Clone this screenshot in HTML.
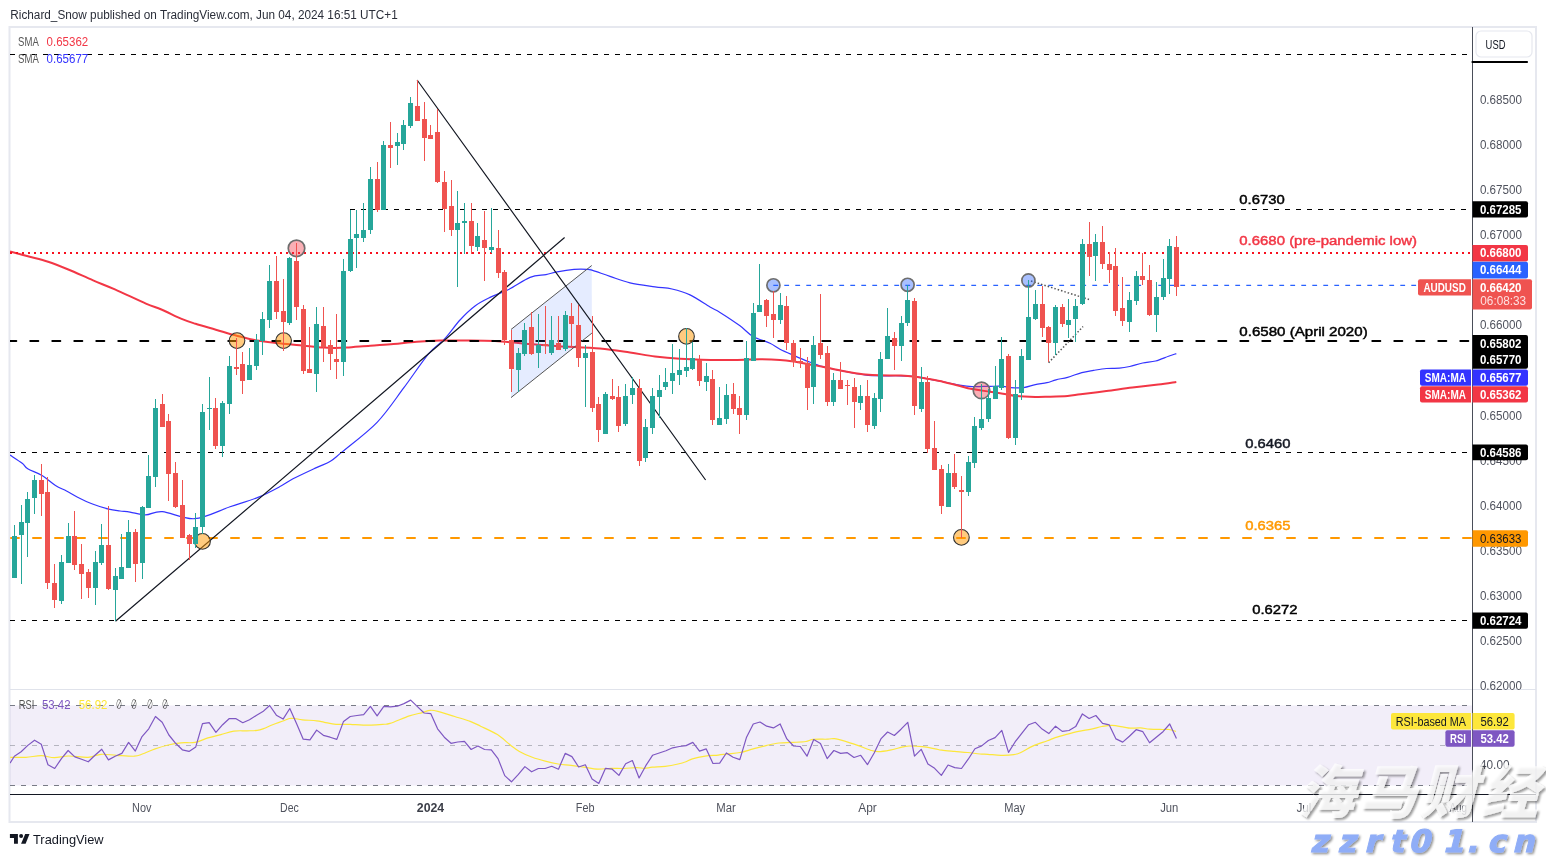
<!DOCTYPE html>
<html><head><meta charset="utf-8"><title>AUDUSD chart</title>
<style>
html,body{margin:0;padding:0;background:#fff;}
body{width:1546px;height:857px;overflow:hidden;position:relative;font-family:"Liberation Sans","Noto Sans CJK SC",sans-serif;}
svg{position:absolute;left:0;top:0;will-change:transform;}
svg{font-family:"Liberation Sans","Noto Sans CJK SC",sans-serif;}
</style></head><body>
<svg width="1546" height="857" viewBox="0 0 1546 857">
<rect width="1546" height="857" fill="#fff"/>
<text x="10.3" y="19.1" font-size="12" fill="#2a2e39" textLength="387.4" lengthAdjust="spacingAndGlyphs">Richard_Snow published on TradingView.com, Jun 04, 2024 16:51 UTC+1</text>
<rect x="9.5" y="27" width="1526.5" height="795" fill="none" stroke="#e6e8ef" stroke-width="2"/>
<defs><clipPath id="mp"><rect x="10" y="28" width="1462" height="661"/></clipPath><clipPath id="rp"><rect x="10" y="690" width="1462" height="104"/></clipPath></defs>
<g clip-path="url(#mp)">
<path d="M10 455C12.03 456.38 19.25 461 22.2 463.3C25.15 465.6 24.38 466.77 27.7 468.8C31.02 470.83 37.47 472.72 42.1 475.5C46.73 478.28 51.43 482.92 55.5 485.5C59.57 488.08 62.82 489.05 66.5 491C70.18 492.95 73.15 494.98 77.6 497.2C82.05 499.42 88.02 502.3 93.2 504.3C98.38 506.3 104.23 508.08 108.7 509.2C113.17 510.32 116.45 510.52 120 511C123.55 511.48 125.72 511.45 130 512.1C134.28 512.75 140.3 514.98 145.7 514.9C151.1 514.82 154.27 510.97 162.4 511.6C170.53 512.23 183.23 519.5 194.5 518.7C205.77 517.9 219.42 510.35 230 506.8C240.58 503.25 249.43 500.9 258 497.4C266.57 493.9 275.57 488.9 281.4 485.8C287.23 482.7 287.17 481.83 293 478.8C298.83 475.77 310.17 470.52 316.4 467.6C322.63 464.68 326.12 463.92 330.4 461.3C334.68 458.68 334.32 458.4 342.1 451.9C349.88 445.4 366.8 433 377.1 422.3C387.4 411.6 395.33 399.1 403.9 387.7C412.47 376.3 421.68 362.07 428.5 353.9C435.32 345.73 439.55 344.35 444.8 338.7C450.05 333.05 454.97 325.45 460 320C465.03 314.55 470 309.77 475 306C480 302.23 484.38 300.15 490 297.4C495.62 294.65 502.02 292.83 508.7 289.5C515.38 286.17 523.88 279.88 530.1 277.4C536.32 274.92 541.48 275.53 546 274.6C550.52 273.67 552.53 272.67 557.2 271.8C561.87 270.93 569.03 269.82 574 269.4C578.97 268.98 583.9 269.13 587 269.3C590.1 269.47 588.77 269.22 592.6 270.4C596.43 271.58 603.77 274.33 610 276.4C616.23 278.47 622.5 281.07 630 282.8C637.5 284.53 648 285.77 655 286.8C662 287.83 666.17 287.65 672 289C677.83 290.35 683.67 291.9 690 294.9C696.33 297.9 705 304.08 710 307C715 309.92 715 309.27 720 312.4C725 315.53 734.5 321.78 740 325.8C745.5 329.82 748 333.6 753 336.5C758 339.4 765.5 341.08 770 343.2C774.5 345.32 775.97 347.13 780 349.2C784.03 351.27 789.45 353.53 794.2 355.6C798.95 357.67 803.75 359.75 808.5 361.6C813.25 363.45 817.97 365.33 822.7 366.7C827.43 368.07 832.15 368.8 836.9 369.8C841.65 370.8 845.98 371.78 851.2 372.7C856.42 373.62 863.47 374.78 868.2 375.3C872.93 375.82 874.13 375.72 879.6 375.8C885.07 375.88 895.07 375.65 901 375.8C906.93 375.95 910.47 376.15 915.2 376.7C919.93 377.25 924.65 378.23 929.4 379.1C934.15 379.97 938.95 380.95 943.7 381.9C948.45 382.85 953.17 384.02 957.9 384.8C962.63 385.58 966.75 386.35 972.1 386.6C977.45 386.85 984.87 386.35 990 386.3C995.13 386.25 999.45 386.08 1002.9 386.3C1006.35 386.52 1007.25 387.38 1010.7 387.6C1014.15 387.82 1019.5 388.1 1023.6 387.6C1027.7 387.1 1031.42 385.42 1035.3 384.6C1039.18 383.78 1043.45 383.5 1046.9 382.7C1050.35 381.9 1052.55 380.7 1056 379.8C1059.45 378.9 1063.3 378.5 1067.6 377.3C1071.9 376.1 1077.48 373.75 1081.8 372.6C1086.12 371.45 1089.4 371.08 1093.5 370.4C1097.6 369.72 1102.08 368.87 1106.4 368.5C1110.72 368.13 1115.52 368.53 1119.4 368.2C1123.28 367.87 1125.82 367.37 1129.7 366.5C1133.58 365.63 1138.38 363.92 1142.7 363C1147.02 362.08 1151.3 362.13 1155.6 361C1159.9 359.87 1165.05 357.43 1168.5 356.2C1171.95 354.97 1175 354.03 1176.3 353.6" fill="none" stroke="#3434ff" stroke-width="1.2"/>
<path d="M10 251.4C12.98 252.22 21.55 254.58 27.9 256.3C34.25 258.02 41.37 259.5 48.1 261.7C54.83 263.9 60.8 266.38 68.3 269.5C75.8 272.62 85.33 277.08 93.1 280.4C100.87 283.72 106.1 285.53 114.9 289.4C123.7 293.27 138.15 300.25 145.9 303.6C153.65 306.95 155.45 306.95 161.4 309.5C167.35 312.05 175.9 316.52 181.6 318.9C187.3 321.28 189.9 322 195.6 323.8C201.3 325.6 210.07 328 215.8 329.7C221.53 331.4 226.63 333.03 230 334C233.37 334.97 232.12 334.53 236 335.5C239.88 336.47 246.52 338.57 253.3 339.8C260.08 341.03 268.92 342 276.7 342.9C284.48 343.8 292.22 344.42 300 345.2C307.78 345.98 317.57 347.13 323.4 347.6C329.23 348.07 331.12 348 335 348C338.88 348 340.85 347.98 346.7 347.6C352.55 347.22 362.32 346.3 370.1 345.7C377.88 345.1 385.62 344.67 393.4 344C401.18 343.33 409.02 342.28 416.8 341.7C424.58 341.12 432.32 340.7 440.1 340.5C447.88 340.3 454.35 340.4 463.5 340.5C472.65 340.6 483.33 340.47 495 341.1C506.67 341.73 522.8 343.45 533.5 344.3C544.2 345.15 548.12 345.5 559.2 346.2C570.28 346.9 588.2 347.45 600 348.5C611.8 349.55 620.83 351.17 630 352.5C639.17 353.83 646.67 355.47 655 356.5C663.33 357.53 669.17 358.1 680 358.7C690.83 359.3 706.67 360 720 360.1C733.33 360.2 750 359.33 760 359.3C770 359.27 774.3 359.52 780 359.9C785.7 360.28 789.45 360.88 794.2 361.6C798.95 362.32 803.75 363.35 808.5 364.2C813.25 365.05 817.97 365.77 822.7 366.7C827.43 367.63 832.15 368.85 836.9 369.8C841.65 370.75 846.45 371.63 851.2 372.4C855.95 373.17 860.67 373.92 865.4 374.4C870.13 374.88 873.67 375.12 879.6 375.3C885.53 375.48 895.07 375.27 901 375.5C906.93 375.73 910.47 376.1 915.2 376.7C919.93 377.3 924.65 378.23 929.4 379.1C934.15 379.97 938.95 380.83 943.7 381.9C948.45 382.97 953.17 384.3 957.9 385.5C962.63 386.7 966.75 388.07 972.1 389.1C977.45 390.13 984.87 390.93 990 391.7C995.13 392.47 998.58 393 1002.9 393.7C1007.22 394.4 1010.5 395.37 1015.9 395.9C1021.3 396.43 1029.92 396.77 1035.3 396.9C1040.68 397.03 1042.82 396.87 1048.2 396.7C1053.58 396.53 1062.2 396.3 1067.6 395.9C1073 395.5 1074.13 395.1 1080.6 394.3C1087.07 393.5 1097.78 392.22 1106.4 391.1C1115.02 389.98 1123.67 388.68 1132.3 387.6C1140.93 386.52 1150.87 385.53 1158.2 384.6C1165.53 383.67 1173.28 382.43 1176.3 382" fill="none" stroke="#f23645" stroke-width="2"/>
<path d="M10 54.5H1472" stroke="#000" stroke-width="1" stroke-dasharray="5 6"/>
<path d="M350 209.5H1467" stroke="#000" stroke-width="1" stroke-dasharray="5 6"/>
<path d="M10 253H1472" stroke="#f7101e" stroke-width="2" stroke-dasharray="2 4"/>
<path d="M8.3 341H1472" stroke="#000" stroke-width="2" stroke-dasharray="8 14" stroke-linecap="round"/>
<path d="M10 452.5H1467" stroke="#000" stroke-width="1" stroke-dasharray="5 6"/>
<path d="M11 538H1472" stroke="#ff9800" stroke-width="2" stroke-dasharray="8 14" stroke-linecap="round"/>
<path d="M10 620.5H1467" stroke="#000" stroke-width="1" stroke-dasharray="5 6"/>
<path d="M773.3 285.4H1418" stroke="#2962ff" stroke-width="1.2" stroke-dasharray="4.8 6.2"/>
<polygon points="511,329.5 591.7,265.5 591.9,333.1 511,397.6" fill="rgba(41,98,255,0.12)"/>
<path d="M511 329.5L591.7 265.5M511 397.6L591.9 333.1" stroke="#555" stroke-width="1"/>
<path d="M115.5 621.3L564.6 237.5M417.1 80L705.6 480" stroke="#131722" stroke-width="1.2"/>
<path d="M1031 281L1089 299.5M1048.6 362.7L1083 326.6" stroke="#555" stroke-width="1.5" stroke-dasharray="1.5 2"/>
<circle cx="202.5" cy="541.4" r="7.85" fill="rgba(255,152,0,0.5)" stroke="#333" stroke-width="1.1"/>
<circle cx="237" cy="340.6" r="7.85" fill="rgba(255,152,0,0.5)" stroke="#333" stroke-width="1.1"/>
<circle cx="283.6" cy="340.6" r="7.85" fill="rgba(255,152,0,0.5)" stroke="#333" stroke-width="1.1"/>
<circle cx="296.5" cy="248.3" r="8.25" fill="rgba(242,54,69,0.4)" stroke="#6e6e6e" stroke-width="1.7"/>
<circle cx="686.5" cy="336.4" r="7.85" fill="rgba(255,152,0,0.5)" stroke="#333" stroke-width="1.1"/>
<circle cx="773.4" cy="285.3" r="6.55" fill="rgba(41,98,255,0.4)" stroke="#6e6e6e" stroke-width="1.7"/>
<circle cx="907.6" cy="284.8" r="6.55" fill="rgba(41,98,255,0.4)" stroke="#6e6e6e" stroke-width="1.7"/>
<circle cx="961.4" cy="537.4" r="7.85" fill="rgba(255,152,0,0.5)" stroke="#333" stroke-width="1.1"/>
<circle cx="981.5" cy="390.4" r="8.25" fill="rgba(242,54,69,0.4)" stroke="#6e6e6e" stroke-width="1.7"/>
<circle cx="1028.4" cy="280.4" r="6.55" fill="rgba(41,98,255,0.4)" stroke="#6e6e6e" stroke-width="1.7"/>
<g stroke-width="1" shape-rendering="crispEdges">
<path d="M14.5 525V578" stroke="#26a69a"/>
<rect x="12" y="536" width="5" height="42" fill="#26a69a"/>
<path d="M21.5 505V584" stroke="#26a69a"/>
<rect x="19" y="522" width="5" height="13" fill="#26a69a"/>
<path d="M27.5 492V557" stroke="#26a69a"/>
<rect x="25" y="499" width="5" height="24" fill="#26a69a"/>
<path d="M34.5 475V514" stroke="#26a69a"/>
<rect x="32" y="480" width="5" height="18" fill="#26a69a"/>
<path d="M41.5 464V516" stroke="#ef5350"/>
<rect x="39" y="480" width="5" height="14" fill="#ef5350"/>
<path d="M47.5 477V589" stroke="#ef5350"/>
<rect x="45" y="492" width="5" height="91" fill="#ef5350"/>
<path d="M54.5 564V608" stroke="#ef5350"/>
<rect x="52" y="583" width="5" height="17" fill="#ef5350"/>
<path d="M61.5 555V604" stroke="#26a69a"/>
<rect x="59" y="562" width="5" height="39" fill="#26a69a"/>
<path d="M68.5 523V563" stroke="#26a69a"/>
<rect x="66" y="536" width="5" height="27" fill="#26a69a"/>
<path d="M74.5 511V570" stroke="#ef5350"/>
<rect x="72" y="536" width="5" height="29" fill="#ef5350"/>
<path d="M81.5 544V599" stroke="#ef5350"/>
<rect x="79" y="564" width="5" height="10" fill="#ef5350"/>
<path d="M88.5 569V598" stroke="#ef5350"/>
<rect x="86" y="572" width="5" height="16" fill="#ef5350"/>
<path d="M95.5 551V605" stroke="#26a69a"/>
<rect x="93" y="562" width="5" height="26" fill="#26a69a"/>
<path d="M101.5 524V565" stroke="#26a69a"/>
<rect x="99" y="545" width="5" height="18" fill="#26a69a"/>
<path d="M108.5 506V590" stroke="#ef5350"/>
<rect x="106" y="545" width="5" height="44" fill="#ef5350"/>
<path d="M115.5 568V621" stroke="#26a69a"/>
<rect x="113" y="576" width="5" height="14" fill="#26a69a"/>
<path d="M121.5 534V579" stroke="#26a69a"/>
<rect x="119" y="567" width="5" height="12" fill="#26a69a"/>
<path d="M128.5 520V568" stroke="#26a69a"/>
<rect x="126" y="532" width="5" height="36" fill="#26a69a"/>
<path d="M135.5 529V582" stroke="#ef5350"/>
<rect x="133" y="532" width="5" height="32" fill="#ef5350"/>
<path d="M142.5 506V579" stroke="#26a69a"/>
<rect x="140" y="507" width="5" height="56" fill="#26a69a"/>
<path d="M148.5 455V508" stroke="#26a69a"/>
<rect x="146" y="476" width="5" height="32" fill="#26a69a"/>
<path d="M155.5 399V487" stroke="#26a69a"/>
<rect x="153" y="408" width="5" height="69" fill="#26a69a"/>
<path d="M162.5 394V427" stroke="#ef5350"/>
<rect x="160" y="404" width="5" height="23" fill="#ef5350"/>
<path d="M168.5 414V501" stroke="#ef5350"/>
<rect x="166" y="421" width="5" height="53" fill="#ef5350"/>
<path d="M175.5 462V508" stroke="#ef5350"/>
<rect x="173" y="473" width="5" height="34" fill="#ef5350"/>
<path d="M182.5 480V538" stroke="#ef5350"/>
<rect x="180" y="505" width="5" height="33" fill="#ef5350"/>
<path d="M189.5 534V560" stroke="#ef5350"/>
<rect x="187" y="535" width="5" height="9" fill="#ef5350"/>
<path d="M195.5 513V548" stroke="#26a69a"/>
<rect x="193" y="527" width="5" height="17" fill="#26a69a"/>
<path d="M202.5 404V534" stroke="#26a69a"/>
<rect x="200" y="412" width="5" height="115" fill="#26a69a"/>
<path d="M209.5 377V430" stroke="#26a69a"/>
<rect x="207" y="408" width="5" height="1" fill="#26a69a"/>
<path d="M215.5 398V449" stroke="#ef5350"/>
<rect x="213" y="408" width="5" height="38" fill="#ef5350"/>
<path d="M222.5 401V457" stroke="#26a69a"/>
<rect x="220" y="403" width="5" height="43" fill="#26a69a"/>
<path d="M229.5 356V414" stroke="#26a69a"/>
<rect x="227" y="366" width="5" height="38" fill="#26a69a"/>
<path d="M236.5 338V375" stroke="#ef5350"/>
<rect x="234" y="367" width="5" height="2" fill="#ef5350"/>
<path d="M242.5 352V394" stroke="#ef5350"/>
<rect x="240" y="364" width="5" height="17" fill="#ef5350"/>
<path d="M249.5 348V380" stroke="#26a69a"/>
<rect x="247" y="365" width="5" height="15" fill="#26a69a"/>
<path d="M256.5 334V370" stroke="#26a69a"/>
<rect x="254" y="340" width="5" height="26" fill="#26a69a"/>
<path d="M262.5 312V355" stroke="#26a69a"/>
<rect x="260" y="319" width="5" height="22" fill="#26a69a"/>
<path d="M269.5 265V328" stroke="#26a69a"/>
<rect x="267" y="281" width="5" height="39" fill="#26a69a"/>
<path d="M276.5 256V319" stroke="#ef5350"/>
<rect x="274" y="281" width="5" height="31" fill="#ef5350"/>
<path d="M283.5 279V351" stroke="#ef5350"/>
<rect x="281" y="311" width="5" height="11" fill="#ef5350"/>
<path d="M289.5 257V325" stroke="#26a69a"/>
<rect x="287" y="258" width="5" height="65" fill="#26a69a"/>
<path d="M296.5 243V320" stroke="#ef5350"/>
<rect x="294" y="261" width="5" height="46" fill="#ef5350"/>
<path d="M303.5 305V374" stroke="#ef5350"/>
<rect x="301" y="309" width="5" height="62" fill="#ef5350"/>
<path d="M309.5 327V373" stroke="#ef5350"/>
<rect x="307" y="369" width="5" height="4" fill="#ef5350"/>
<path d="M316.5 307V392" stroke="#26a69a"/>
<rect x="314" y="324" width="5" height="50" fill="#26a69a"/>
<path d="M323.5 307V362" stroke="#ef5350"/>
<rect x="321" y="326" width="5" height="21" fill="#ef5350"/>
<path d="M330.5 340V370" stroke="#ef5350"/>
<rect x="328" y="345" width="5" height="9" fill="#ef5350"/>
<path d="M336.5 314V379" stroke="#ef5350"/>
<rect x="334" y="359" width="5" height="3" fill="#ef5350"/>
<path d="M343.5 259V376" stroke="#26a69a"/>
<rect x="341" y="271" width="5" height="91" fill="#26a69a"/>
<path d="M350.5 210V272" stroke="#26a69a"/>
<rect x="348" y="239" width="5" height="32" fill="#26a69a"/>
<path d="M356.5 210V268" stroke="#26a69a"/>
<rect x="354" y="234" width="5" height="4" fill="#26a69a"/>
<path d="M363.5 203V242" stroke="#26a69a"/>
<rect x="361" y="230" width="5" height="8" fill="#26a69a"/>
<path d="M370.5 167V234" stroke="#26a69a"/>
<rect x="368" y="179" width="5" height="51" fill="#26a69a"/>
<path d="M377.5 162V212" stroke="#ef5350"/>
<rect x="375" y="179" width="5" height="31" fill="#ef5350"/>
<path d="M383.5 141V210" stroke="#26a69a"/>
<rect x="381" y="145" width="5" height="65" fill="#26a69a"/>
<path d="M390.5 122V168" stroke="#ef5350"/>
<rect x="388" y="145" width="5" height="3" fill="#ef5350"/>
<path d="M397.5 133V165" stroke="#26a69a"/>
<rect x="395" y="142" width="5" height="4" fill="#26a69a"/>
<path d="M403.5 120V150" stroke="#26a69a"/>
<rect x="401" y="125" width="5" height="19" fill="#26a69a"/>
<path d="M410.5 97V128" stroke="#26a69a"/>
<rect x="408" y="103" width="5" height="23" fill="#26a69a"/>
<path d="M417.5 80V121" stroke="#ef5350"/>
<rect x="415" y="106" width="5" height="15" fill="#ef5350"/>
<path d="M424.5 102V161" stroke="#ef5350"/>
<rect x="422" y="119" width="5" height="19" fill="#ef5350"/>
<path d="M430.5 125V139" stroke="#ef5350"/>
<rect x="428" y="135" width="5" height="4" fill="#ef5350"/>
<path d="M437.5 109V183" stroke="#ef5350"/>
<rect x="435" y="132" width="5" height="50" fill="#ef5350"/>
<path d="M444.5 171V232" stroke="#ef5350"/>
<rect x="442" y="182" width="5" height="27" fill="#ef5350"/>
<path d="M451.5 180V236" stroke="#ef5350"/>
<rect x="449" y="206" width="5" height="24" fill="#ef5350"/>
<path d="M457.5 191V287" stroke="#26a69a"/>
<rect x="455" y="223" width="5" height="7" fill="#26a69a"/>
<path d="M464.5 203V254" stroke="#26a69a"/>
<rect x="462" y="221" width="5" height="2" fill="#26a69a"/>
<path d="M471.5 203V254" stroke="#ef5350"/>
<rect x="469" y="221" width="5" height="25" fill="#ef5350"/>
<path d="M477.5 223V251" stroke="#26a69a"/>
<rect x="475" y="236" width="5" height="11" fill="#26a69a"/>
<path d="M484.5 211V281" stroke="#ef5350"/>
<rect x="482" y="240" width="5" height="8" fill="#ef5350"/>
<path d="M491.5 208V253" stroke="#26a69a"/>
<rect x="489" y="247" width="5" height="3" fill="#26a69a"/>
<path d="M498.5 230V278" stroke="#ef5350"/>
<rect x="496" y="248" width="5" height="25" fill="#ef5350"/>
<path d="M504.5 270V345" stroke="#ef5350"/>
<rect x="502" y="272" width="5" height="68" fill="#ef5350"/>
<path d="M511.5 330V392" stroke="#ef5350"/>
<rect x="509" y="340" width="5" height="29" fill="#ef5350"/>
<path d="M518.5 348V392" stroke="#26a69a"/>
<rect x="516" y="353" width="5" height="17" fill="#26a69a"/>
<path d="M524.5 323V356" stroke="#26a69a"/>
<rect x="522" y="330" width="5" height="24" fill="#26a69a"/>
<path d="M531.5 312V355" stroke="#ef5350"/>
<rect x="529" y="327" width="5" height="27" fill="#ef5350"/>
<path d="M538.5 314V368" stroke="#26a69a"/>
<rect x="536" y="345" width="5" height="8" fill="#26a69a"/>
<path d="M545.5 306V354" stroke="#ef5350"/>
<rect x="543" y="344" width="5" height="2" fill="#ef5350"/>
<path d="M551.5 316V355" stroke="#26a69a"/>
<rect x="549" y="340" width="5" height="13" fill="#26a69a"/>
<path d="M558.5 316V350" stroke="#ef5350"/>
<rect x="556" y="343" width="5" height="7" fill="#ef5350"/>
<path d="M565.5 311V351" stroke="#26a69a"/>
<rect x="563" y="315" width="5" height="34" fill="#26a69a"/>
<path d="M571.5 303V348" stroke="#ef5350"/>
<rect x="569" y="316" width="5" height="8" fill="#ef5350"/>
<path d="M578.5 305V367" stroke="#ef5350"/>
<rect x="576" y="325" width="5" height="33" fill="#ef5350"/>
<path d="M585.5 345V407" stroke="#26a69a"/>
<rect x="583" y="353" width="5" height="5" fill="#26a69a"/>
<path d="M592.5 316V412" stroke="#ef5350"/>
<rect x="590" y="352" width="5" height="56" fill="#ef5350"/>
<path d="M598.5 397V442" stroke="#ef5350"/>
<rect x="596" y="404" width="5" height="26" fill="#ef5350"/>
<path d="M605.5 392V434" stroke="#26a69a"/>
<rect x="603" y="394" width="5" height="40" fill="#26a69a"/>
<path d="M612.5 379V400" stroke="#ef5350"/>
<rect x="610" y="396" width="5" height="3" fill="#ef5350"/>
<path d="M618.5 386V432" stroke="#ef5350"/>
<rect x="616" y="397" width="5" height="29" fill="#ef5350"/>
<path d="M625.5 384V426" stroke="#26a69a"/>
<rect x="623" y="396" width="5" height="28" fill="#26a69a"/>
<path d="M632.5 377V404" stroke="#26a69a"/>
<rect x="630" y="388" width="5" height="7" fill="#26a69a"/>
<path d="M639.5 379V466" stroke="#ef5350"/>
<rect x="637" y="388" width="5" height="73" fill="#ef5350"/>
<path d="M645.5 419V462" stroke="#26a69a"/>
<rect x="643" y="427" width="5" height="31" fill="#26a69a"/>
<path d="M652.5 388V434" stroke="#26a69a"/>
<rect x="650" y="396" width="5" height="32" fill="#26a69a"/>
<path d="M659.5 375V418" stroke="#26a69a"/>
<rect x="657" y="390" width="5" height="7" fill="#26a69a"/>
<path d="M665.5 368V390" stroke="#26a69a"/>
<rect x="663" y="382" width="5" height="5" fill="#26a69a"/>
<path d="M672.5 344V394" stroke="#26a69a"/>
<rect x="670" y="373" width="5" height="8" fill="#26a69a"/>
<path d="M679.5 349V385" stroke="#26a69a"/>
<rect x="677" y="370" width="5" height="5" fill="#26a69a"/>
<path d="M686.5 328V377" stroke="#26a69a"/>
<rect x="684" y="367" width="5" height="4" fill="#26a69a"/>
<path d="M692.5 342V370" stroke="#26a69a"/>
<rect x="690" y="358" width="5" height="11" fill="#26a69a"/>
<path d="M699.5 355V386" stroke="#ef5350"/>
<rect x="697" y="360" width="5" height="21" fill="#ef5350"/>
<path d="M706.5 363V391" stroke="#26a69a"/>
<rect x="704" y="376" width="5" height="6" fill="#26a69a"/>
<path d="M712.5 370V425" stroke="#ef5350"/>
<rect x="710" y="379" width="5" height="41" fill="#ef5350"/>
<path d="M719.5 387V425" stroke="#26a69a"/>
<rect x="717" y="418" width="5" height="7" fill="#26a69a"/>
<path d="M726.5 384V424" stroke="#26a69a"/>
<rect x="724" y="395" width="5" height="24" fill="#26a69a"/>
<path d="M733.5 383V414" stroke="#ef5350"/>
<rect x="731" y="394" width="5" height="15" fill="#ef5350"/>
<path d="M739.5 396V434" stroke="#ef5350"/>
<rect x="737" y="408" width="5" height="7" fill="#ef5350"/>
<path d="M746.5 341V420" stroke="#26a69a"/>
<rect x="744" y="358" width="5" height="57" fill="#26a69a"/>
<path d="M753.5 303V361" stroke="#26a69a"/>
<rect x="751" y="313" width="5" height="48" fill="#26a69a"/>
<path d="M759.5 264V312" stroke="#26a69a"/>
<rect x="757" y="305" width="5" height="7" fill="#26a69a"/>
<path d="M766.5 299V327" stroke="#ef5350"/>
<rect x="764" y="300" width="5" height="16" fill="#ef5350"/>
<path d="M773.5 291V338" stroke="#ef5350"/>
<rect x="771" y="314" width="5" height="6" fill="#ef5350"/>
<path d="M780.5 293V324" stroke="#26a69a"/>
<rect x="778" y="305" width="5" height="15" fill="#26a69a"/>
<path d="M786.5 296V350" stroke="#ef5350"/>
<rect x="784" y="306" width="5" height="37" fill="#ef5350"/>
<path d="M793.5 340V367" stroke="#ef5350"/>
<rect x="791" y="343" width="5" height="19" fill="#ef5350"/>
<path d="M800.5 348V368" stroke="#ef5350"/>
<rect x="798" y="361" width="5" height="2" fill="#ef5350"/>
<path d="M807.5 357V410" stroke="#ef5350"/>
<rect x="805" y="363" width="5" height="25" fill="#ef5350"/>
<path d="M813.5 336V404" stroke="#26a69a"/>
<rect x="811" y="345" width="5" height="42" fill="#26a69a"/>
<path d="M820.5 294V359" stroke="#ef5350"/>
<rect x="818" y="343" width="5" height="12" fill="#ef5350"/>
<path d="M827.5 346V406" stroke="#ef5350"/>
<rect x="825" y="353" width="5" height="49" fill="#ef5350"/>
<path d="M833.5 373V406" stroke="#26a69a"/>
<rect x="831" y="380" width="5" height="22" fill="#26a69a"/>
<path d="M840.5 362V389" stroke="#ef5350"/>
<rect x="838" y="380" width="5" height="9" fill="#ef5350"/>
<path d="M847.5 380V405" stroke="#ef5350"/>
<rect x="845" y="385" width="5" height="1" fill="#ef5350"/>
<path d="M854.5 378V428" stroke="#ef5350"/>
<rect x="852" y="387" width="5" height="15" fill="#ef5350"/>
<path d="M860.5 385V410" stroke="#26a69a"/>
<rect x="858" y="396" width="5" height="7" fill="#26a69a"/>
<path d="M867.5 380V432" stroke="#ef5350"/>
<rect x="865" y="396" width="5" height="29" fill="#ef5350"/>
<path d="M874.5 393V429" stroke="#26a69a"/>
<rect x="872" y="398" width="5" height="28" fill="#26a69a"/>
<path d="M880.5 352V412" stroke="#26a69a"/>
<rect x="878" y="359" width="5" height="40" fill="#26a69a"/>
<path d="M887.5 308V359" stroke="#26a69a"/>
<rect x="885" y="336" width="5" height="23" fill="#26a69a"/>
<path d="M894.5 332V370" stroke="#ef5350"/>
<rect x="892" y="338" width="5" height="8" fill="#ef5350"/>
<path d="M901.5 316V361" stroke="#26a69a"/>
<rect x="899" y="323" width="5" height="23" fill="#26a69a"/>
<path d="M907.5 285V326" stroke="#26a69a"/>
<rect x="905" y="300" width="5" height="23" fill="#26a69a"/>
<path d="M914.5 298V415" stroke="#ef5350"/>
<rect x="912" y="301" width="5" height="105" fill="#ef5350"/>
<path d="M921.5 367V412" stroke="#26a69a"/>
<rect x="919" y="382" width="5" height="27" fill="#26a69a"/>
<path d="M927.5 376V453" stroke="#ef5350"/>
<rect x="925" y="382" width="5" height="67" fill="#ef5350"/>
<path d="M934.5 421V470" stroke="#ef5350"/>
<rect x="932" y="448" width="5" height="22" fill="#ef5350"/>
<path d="M941.5 465V514" stroke="#ef5350"/>
<rect x="939" y="469" width="5" height="37" fill="#ef5350"/>
<path d="M948.5 464V507" stroke="#26a69a"/>
<rect x="946" y="473" width="5" height="34" fill="#26a69a"/>
<path d="M954.5 454V489" stroke="#ef5350"/>
<rect x="952" y="473" width="5" height="14" fill="#ef5350"/>
<path d="M961.5 476V538" stroke="#ef5350"/>
<rect x="959" y="490" width="5" height="2" fill="#ef5350"/>
<path d="M968.5 456V496" stroke="#26a69a"/>
<rect x="966" y="462" width="5" height="30" fill="#26a69a"/>
<path d="M974.5 417V468" stroke="#26a69a"/>
<rect x="972" y="426" width="5" height="37" fill="#26a69a"/>
<path d="M981.5 384V430" stroke="#26a69a"/>
<rect x="979" y="419" width="5" height="9" fill="#26a69a"/>
<path d="M988.5 389V422" stroke="#26a69a"/>
<rect x="986" y="398" width="5" height="21" fill="#26a69a"/>
<path d="M995.5 366V399" stroke="#26a69a"/>
<rect x="993" y="386" width="5" height="13" fill="#26a69a"/>
<path d="M1001.5 337V390" stroke="#26a69a"/>
<rect x="999" y="359" width="5" height="29" fill="#26a69a"/>
<path d="M1008.5 354V439" stroke="#ef5350"/>
<rect x="1006" y="356" width="5" height="82" fill="#ef5350"/>
<path d="M1015.5 380V445" stroke="#26a69a"/>
<rect x="1013" y="394" width="5" height="44" fill="#26a69a"/>
<path d="M1021.5 349V400" stroke="#26a69a"/>
<rect x="1019" y="356" width="5" height="37" fill="#26a69a"/>
<path d="M1028.5 280V360" stroke="#26a69a"/>
<rect x="1026" y="317" width="5" height="43" fill="#26a69a"/>
<path d="M1035.5 290V320" stroke="#26a69a"/>
<rect x="1033" y="304" width="5" height="15" fill="#26a69a"/>
<path d="M1042.5 286V337" stroke="#ef5350"/>
<rect x="1040" y="304" width="5" height="24" fill="#ef5350"/>
<path d="M1048.5 326V362" stroke="#ef5350"/>
<rect x="1046" y="327" width="5" height="16" fill="#ef5350"/>
<path d="M1055.5 305V355" stroke="#26a69a"/>
<rect x="1053" y="307" width="5" height="36" fill="#26a69a"/>
<path d="M1062.5 304V327" stroke="#ef5350"/>
<rect x="1060" y="307" width="5" height="17" fill="#ef5350"/>
<path d="M1068.5 299V338" stroke="#26a69a"/>
<rect x="1066" y="320" width="5" height="5" fill="#26a69a"/>
<path d="M1075.5 299V342" stroke="#26a69a"/>
<rect x="1073" y="306" width="5" height="13" fill="#26a69a"/>
<path d="M1082.5 239V305" stroke="#26a69a"/>
<rect x="1080" y="244" width="5" height="60" fill="#26a69a"/>
<path d="M1089.5 222V276" stroke="#ef5350"/>
<rect x="1087" y="244" width="5" height="13" fill="#ef5350"/>
<path d="M1095.5 234V281" stroke="#26a69a"/>
<rect x="1093" y="242" width="5" height="14" fill="#26a69a"/>
<path d="M1102.5 226V269" stroke="#ef5350"/>
<rect x="1100" y="242" width="5" height="22" fill="#ef5350"/>
<path d="M1109.5 252V283" stroke="#ef5350"/>
<rect x="1107" y="264" width="5" height="6" fill="#ef5350"/>
<path d="M1115.5 248V316" stroke="#ef5350"/>
<rect x="1113" y="266" width="5" height="45" fill="#ef5350"/>
<path d="M1122.5 277V326" stroke="#ef5350"/>
<rect x="1120" y="308" width="5" height="13" fill="#ef5350"/>
<path d="M1129.5 292V332" stroke="#26a69a"/>
<rect x="1127" y="300" width="5" height="22" fill="#26a69a"/>
<path d="M1136.5 271V305" stroke="#26a69a"/>
<rect x="1134" y="276" width="5" height="25" fill="#26a69a"/>
<path d="M1142.5 253V285" stroke="#ef5350"/>
<rect x="1140" y="276" width="5" height="4" fill="#ef5350"/>
<path d="M1149.5 265V316" stroke="#ef5350"/>
<rect x="1147" y="280" width="5" height="35" fill="#ef5350"/>
<path d="M1156.5 282V332" stroke="#26a69a"/>
<rect x="1154" y="297" width="5" height="18" fill="#26a69a"/>
<path d="M1163.5 259V300" stroke="#26a69a"/>
<rect x="1161" y="278" width="5" height="19" fill="#26a69a"/>
<path d="M1169.5 239V294" stroke="#26a69a"/>
<rect x="1167" y="246" width="5" height="33" fill="#26a69a"/>
<path d="M1176.5 236V296" stroke="#ef5350"/>
<rect x="1174" y="247" width="5" height="40" fill="#ef5350"/>
</g>
<text x="1239.3" y="203.5" font-size="13" fill="#000" textLength="45.4" lengthAdjust="spacingAndGlyphs" stroke-width="0.45" paint-order="stroke" stroke="#000">0.6730</text>
<text x="1239.3" y="244.7" font-size="13" fill="#f23645" textLength="177.7" lengthAdjust="spacingAndGlyphs" stroke-width="0.45" paint-order="stroke" stroke="#f23645">0.6680 (pre-pandemic low)</text>
<text x="1239.3" y="335.5" font-size="13" fill="#000" textLength="128.4" lengthAdjust="spacingAndGlyphs" stroke-width="0.45" paint-order="stroke" stroke="#000">0.6580 (April 2020)</text>
<text x="1245.2" y="447.5" font-size="13" fill="#131722" textLength="45.3" lengthAdjust="spacingAndGlyphs" stroke-width="0.45" paint-order="stroke" stroke="#131722">0.6460</text>
<text x="1245.2" y="529.9" font-size="13" fill="#ff9800" textLength="45.3" lengthAdjust="spacingAndGlyphs" stroke-width="0.45" paint-order="stroke" stroke="#ff9800">0.6365</text>
<text x="1252.2" y="613.7" font-size="13" fill="#000" textLength="45.3" lengthAdjust="spacingAndGlyphs" stroke-width="0.45" paint-order="stroke" stroke="#000">0.6272</text>
<text x="18.1" y="45.5" font-size="12" fill="#555" textLength="20.7" lengthAdjust="spacingAndGlyphs">SMA</text>
<text x="46.6" y="45.5" font-size="12" fill="#f23645" textLength="41.6" lengthAdjust="spacingAndGlyphs">0.65362</text>
<text x="18.1" y="62.7" font-size="12" fill="#555" textLength="20.7" lengthAdjust="spacingAndGlyphs">SMA</text>
<text x="46.6" y="62.7" font-size="12" fill="#3333ff" textLength="41.6" lengthAdjust="spacingAndGlyphs">0.65677</text>
</g>
<path d="M10 689.5H1536" stroke="#e0e3eb" stroke-width="1"/>
<g clip-path="url(#rp)">
<rect x="10" y="705.5" width="1462" height="80" fill="rgba(126,87,194,0.1)"/>
<path d="M10 705.5H1472M10 785.5H1472" stroke="#787b86" stroke-width="1" stroke-dasharray="5 6"/>
<path d="M10 745.5H1472" stroke="rgba(120,123,134,0.5)" stroke-width="1" stroke-dasharray="5 6"/>
<path d="M10.3 757.3C12.9 757.3 20.72 757.57 25.9 757.3C31.08 757.03 36.67 755.63 41.4 755.7C46.13 755.77 49.77 757.65 54.3 757.7C58.83 757.75 62.98 756.07 68.6 756C74.22 755.93 82.62 757.58 88 757.3C93.38 757.02 96.17 754.63 100.9 754.3C105.63 753.97 110.8 754.98 116.4 755.3C122 755.62 130.18 756.42 134.5 756.2C138.82 755.98 138.85 755.22 142.3 754C145.75 752.78 150.88 750.4 155.2 748.9C159.52 747.4 163.88 746.02 168.2 745C172.52 743.98 176.63 743.23 181.1 742.8C185.57 742.37 190.53 743.22 195 742.4C199.47 741.58 203.58 739.2 207.9 737.9C212.22 736.6 216.58 735.73 220.9 734.6C225.22 733.47 229.5 731.73 233.8 731.1C238.1 730.47 242.82 730.92 246.7 730.8C250.58 730.68 254.28 730.77 257.1 730.4C259.92 730.03 261.02 729.55 263.6 728.6C266.18 727.65 269.37 725.97 272.6 724.7C275.83 723.43 280.2 722.03 283 721C285.8 719.97 287.47 718.92 289.4 718.5C291.33 718.08 292.43 718.28 294.6 718.5C296.77 718.72 298.73 719.42 302.4 719.8C306.07 720.18 312.93 720.38 316.6 720.8C320.27 721.22 321.17 721.72 324.4 722.3C327.63 722.88 331.7 723.97 336 724.3C340.3 724.63 345.67 724.15 350.2 724.3C354.73 724.45 357.8 725.2 363.2 725.2C368.6 725.2 378.13 724.6 382.6 724.3C387.07 724 385.53 724.8 390 723.4C394.47 722 404.02 717.7 409.4 715.9C414.78 714.1 418.85 713.53 422.3 712.6C425.75 711.67 427.5 710.52 430.1 710.3C432.7 710.08 433.8 710.27 437.9 711.3C442 712.33 449.32 714.82 454.7 716.5C460.08 718.18 465.88 719.78 470.2 721.4C474.52 723.02 476.07 724 480.6 726.2C485.13 728.4 492.45 731.47 497.4 734.6C502.35 737.73 506.63 742.2 510.3 745C513.97 747.8 515.73 749.35 519.4 751.4C523.07 753.45 528 755.67 532.3 757.3C536.6 758.93 540.88 760.08 545.2 761.2C549.52 762.32 553.88 763.32 558.2 764C562.52 764.68 566.8 764.77 571.1 765.3C575.4 765.83 579.53 766.55 584 767.2C588.47 767.85 593.42 769.02 597.9 769.2C602.38 769.38 606.58 768.42 610.9 768.3C615.22 768.18 619.5 768.62 623.8 768.5C628.1 768.38 633.25 767.63 636.7 767.6C640.15 767.57 641.9 768.37 644.5 768.3C647.1 768.23 648.85 767.53 652.3 767.2C655.75 766.87 660.9 766.83 665.2 766.3C669.5 765.77 674.65 764.75 678.1 764C681.55 763.25 683.52 762.67 685.9 761.8C688.28 760.93 689.17 759.73 692.4 758.8C695.63 757.87 701 756.82 705.3 756.2C709.6 755.58 714.53 755.47 718.2 755.1C721.87 754.73 723.63 754.43 727.3 754C730.97 753.57 735.88 753.35 740.2 752.5C744.52 751.65 748.88 750.05 753.2 748.9C757.52 747.75 761.8 746.58 766.1 745.6C770.4 744.62 774.53 743.53 779 743C783.47 742.47 788.42 742.65 792.9 742.4C797.38 742.15 802.55 742 805.9 741.5C809.25 741 809.33 739.78 813 739.4C816.67 739.02 824.35 739.33 827.9 739.2C831.45 739.07 831.5 738.28 834.3 738.6C837.1 738.92 840.82 739.97 844.7 741.1C848.58 742.23 853.28 743.88 857.6 745.4C861.92 746.92 867.15 749.15 870.6 750.2C874.05 751.25 875.07 751.7 878.3 751.7C881.53 751.7 885.9 751 890 750.2C894.1 749.4 899.67 747.6 902.9 746.9C906.13 746.2 906.17 746.03 909.4 746C912.63 745.97 918 746.22 922.3 746.7C926.6 747.18 931.97 748.32 935.2 748.9C938.43 749.48 938.47 749.78 941.7 750.2C944.93 750.62 950.28 751.02 954.6 751.4C958.92 751.78 963.37 752.07 967.6 752.5C971.83 752.93 976.62 753.7 980 754C983.38 754.3 984.42 754.08 987.9 754.3C991.38 754.52 996.58 755.23 1000.9 755.3C1005.22 755.37 1010.57 755.13 1013.8 754.7C1017.03 754.27 1017.07 754.17 1020.3 752.7C1023.53 751.23 1028.68 747.88 1033.2 745.9C1037.72 743.92 1043.73 742.18 1047.4 740.8C1051.07 739.42 1052.17 738.63 1055.2 737.6C1058.23 736.57 1061.72 735.63 1065.6 734.6C1069.48 733.57 1074.2 732.32 1078.5 731.4C1082.8 730.48 1087.52 729.92 1091.4 729.1C1095.28 728.28 1098.35 727.13 1101.8 726.5C1105.25 725.87 1108.43 725.2 1112.1 725.3C1115.77 725.4 1120.78 726.62 1123.8 727.1C1126.82 727.58 1127.4 728.07 1130.2 728.2C1133 728.33 1137.37 727.73 1140.6 727.9C1143.83 728.07 1145.93 728.93 1149.6 729.2C1153.27 729.47 1159.37 729.45 1162.6 729.5C1165.83 729.55 1166.77 729.17 1169 729.5C1171.23 729.83 1174.83 731.17 1176 731.5" fill="none" stroke="#fde73b" stroke-width="1.2"/>
<polyline points="10,763.1 14.4,756.2 21.12,751.8 27.83,745.4 34.55,740.2 41.27,744.3 47.98,764.8 54.7,768.5 61.42,758.6 68.14,750.5 74.85,756.9 81.57,759.2 88.29,761.8 95,755.3 101.72,749.2 108.44,759.9 115.16,756.2 121.87,753.4 128.59,742.4 135.31,751.1 142.02,736.6 148.74,728.8 155.46,716.5 162.17,722.3 168.89,735 175.61,743.3 182.32,749.8 189.04,751.4 195.76,746.9 202.48,723.6 209.19,722.7 215.91,732.3 222.63,724.7 229.34,718.5 236.06,718.7 242.78,722.7 249.5,719.8 256.21,715.5 262.93,711.6 269.65,705.5 276.36,715.2 283.08,719.1 289.8,708.5 296.51,723.6 303.23,739.2 309.95,739.8 316.66,730.1 323.38,735.3 330.1,737.2 336.82,739.4 343.53,721.4 350.25,716.5 356.97,715.5 363.68,714.6 370.4,706.4 377.12,715.9 383.83,706.4 390.55,706.8 397.27,706.2 403.99,703.6 410.7,700.1 417.42,706.6 424.14,713 430.85,713.7 437.57,728.8 444.29,737.2 451,743.3 457.72,742 464.44,741.4 471.16,749.5 477.87,746 484.59,749.5 491.31,749.9 498.02,758.6 504.74,775.6 511.46,781.8 518.17,774.7 524.89,766.6 531.61,771.8 538.33,768.5 545.04,768.5 551.76,766.3 558.48,769.2 565.19,753.4 571.91,756.6 578.63,767 585.34,764.8 592.06,779 598.78,783.4 605.5,768.3 612.21,769.2 618.93,775.4 625.65,763.7 632.36,760.5 639.08,778 645.8,765.7 652.51,755.3 659.23,753 665.95,750.8 672.67,747.8 679.38,746.5 686.1,745.6 692.82,742.4 699.53,751.1 706.25,748.9 712.97,763.5 719.68,763.1 726.4,753 733.12,757.3 739.84,759.6 746.55,737.2 753.27,724 759.99,722 766.7,726.2 773.42,727.9 780.14,723.9 786.85,738.9 793.57,746 800.29,746.5 807.01,756.2 813.72,739.5 820.44,743.4 827.16,758.6 833.87,750.5 840.59,753.4 847.31,752.7 854.02,757.5 860.74,755.3 867.46,764.6 874.18,753 880.89,738.9 887.61,732 894.33,735.5 901.04,729.2 907.76,722.3 914.48,756.2 921.19,749.3 927.91,764 934.63,768.3 941.35,775.4 948.06,765 954.78,767.6 961.5,768.5 968.21,759.2 974.93,748.7 981.65,745.9 988.36,740.5 995.08,737.6 1001.8,730.4 1008.52,752.4 1015.23,741.7 1021.95,733.1 1028.67,724.7 1035.38,722.3 1042.1,729.1 1048.82,733.6 1055.54,726.2 1062.25,731.4 1068.97,730.5 1075.69,726.6 1082.4,713.9 1089.12,718.5 1095.84,715.5 1102.55,723.4 1109.27,724.9 1115.99,738.9 1122.7,742.1 1129.42,736.2 1136.14,729.7 1142.86,731.7 1149.57,742.8 1156.29,737.2 1163.01,731.7 1169.72,724 1176.44,738.5" fill="none" stroke="#7e57c2" stroke-width="1.2" stroke-linejoin="round"/>
<text x="18.8" y="708.8" font-size="12" fill="#555" textLength="15.5" lengthAdjust="spacingAndGlyphs">RSI</text>
<text x="42" y="708.8" font-size="12" fill="#7e57c2" textLength="28.5" lengthAdjust="spacingAndGlyphs">53.42</text>
<text x="78.7" y="708.8" font-size="12" fill="#fde73b" textLength="28.7" lengthAdjust="spacingAndGlyphs">56.92</text>
<text x="115.8" y="708.8" font-size="12" fill="#555" textLength="6.5" lengthAdjust="spacingAndGlyphs">∅</text>
<text x="130.7" y="708.8" font-size="12" fill="#555" textLength="6.5" lengthAdjust="spacingAndGlyphs">∅</text>
<text x="146.8" y="708.8" font-size="12" fill="#555" textLength="6.5" lengthAdjust="spacingAndGlyphs">∅</text>
<text x="161.7" y="708.8" font-size="12" fill="#555" textLength="6.5" lengthAdjust="spacingAndGlyphs">∅</text>
</g>
<path d="M10 794.5H1536" stroke="#131722" stroke-width="1"/>
<path d="M1472.5 27V822" stroke="#4a4e59" stroke-width="1"/>
<text x="132" y="812.4" font-size="12.5" fill="#50535e" textLength="19.4" lengthAdjust="spacingAndGlyphs">Nov</text>
<text x="280" y="812.4" font-size="12.5" fill="#50535e" textLength="18.8" lengthAdjust="spacingAndGlyphs">Dec</text>
<text x="416.8" y="812.4" font-size="12.5" fill="#3b3e48" font-weight="bold" textLength="27.4" lengthAdjust="spacingAndGlyphs">2024</text>
<text x="575.8" y="812.4" font-size="12.5" fill="#50535e" textLength="18.7" lengthAdjust="spacingAndGlyphs">Feb</text>
<text x="716.3" y="812.4" font-size="12.5" fill="#50535e" textLength="19.5" lengthAdjust="spacingAndGlyphs">Mar</text>
<text x="858.2" y="812.4" font-size="12.5" fill="#50535e" textLength="18.6" lengthAdjust="spacingAndGlyphs">Apr</text>
<text x="1004.2" y="812.4" font-size="12.5" fill="#50535e" textLength="20.9" lengthAdjust="spacingAndGlyphs">May</text>
<text x="1160.2" y="812.4" font-size="12.5" fill="#50535e" textLength="18.2" lengthAdjust="spacingAndGlyphs">Jun</text>
<text x="1296.4" y="812.4" font-size="12.5" fill="#50535e" textLength="15.1" lengthAdjust="spacingAndGlyphs">Jul</text>
<text x="1449.5" y="812.4" font-size="12.5" fill="#50535e" textLength="17.5" lengthAdjust="spacingAndGlyphs">Aug</text>
<text x="1479.9" y="104" font-size="12" fill="#50535e" textLength="42.1" lengthAdjust="spacingAndGlyphs">0.68500</text>
<text x="1479.9" y="149.09" font-size="12" fill="#50535e" textLength="42.1" lengthAdjust="spacingAndGlyphs">0.68000</text>
<text x="1479.9" y="194.18" font-size="12" fill="#50535e" textLength="42.1" lengthAdjust="spacingAndGlyphs">0.67500</text>
<text x="1479.9" y="239.27" font-size="12" fill="#50535e" textLength="42.1" lengthAdjust="spacingAndGlyphs">0.67000</text>
<text x="1479.9" y="329.45" font-size="12" fill="#50535e" textLength="42.1" lengthAdjust="spacingAndGlyphs">0.66000</text>
<text x="1479.9" y="419.63" font-size="12" fill="#50535e" textLength="42.1" lengthAdjust="spacingAndGlyphs">0.65000</text>
<text x="1479.9" y="464.72" font-size="12" fill="#50535e" textLength="42.1" lengthAdjust="spacingAndGlyphs">0.64500</text>
<text x="1479.9" y="509.81" font-size="12" fill="#50535e" textLength="42.1" lengthAdjust="spacingAndGlyphs">0.64000</text>
<text x="1479.9" y="554.9" font-size="12" fill="#50535e" textLength="42.1" lengthAdjust="spacingAndGlyphs">0.63500</text>
<text x="1479.9" y="599.99" font-size="12" fill="#50535e" textLength="42.1" lengthAdjust="spacingAndGlyphs">0.63000</text>
<text x="1479.9" y="645.08" font-size="12" fill="#50535e" textLength="42.1" lengthAdjust="spacingAndGlyphs">0.62500</text>
<text x="1479.9" y="690.17" font-size="12" fill="#50535e" textLength="42.1" lengthAdjust="spacingAndGlyphs">0.62000</text>
<rect x="1476" y="31" width="56" height="26" rx="5" fill="#fff" stroke="#e6e8ef" stroke-width="1.2"/>
<text x="1485.6" y="49" font-size="12.5" fill="#131722" textLength="19.9" lengthAdjust="spacingAndGlyphs">USD</text>
<path d="M1472.5 62H1527" stroke="#000" stroke-width="2.2" stroke-linecap="round"/>
<path d="M1472.5 201.3H1526q2 0 2 2V215.6q0 2 -2 2H1472.5Z" fill="#000"/>
<text x="1479.9" y="213.65" font-size="12" fill="#fff" font-weight="bold" textLength="41.6" lengthAdjust="spacingAndGlyphs">0.67285</text>
<path d="M1472.5 245H1526q2 0 2 2V259.5q0 2 -2 2H1472.5Z" fill="#f23645"/>
<text x="1479.9" y="257.45" font-size="12" fill="#fff" font-weight="bold" textLength="41.6" lengthAdjust="spacingAndGlyphs">0.66800</text>
<path d="M1472.5 261.8H1526q2 0 2 2V276.5q0 2 -2 2H1472.5Z" fill="#2962ff"/>
<text x="1479.9" y="274.35" font-size="12" fill="#fff" font-weight="bold" textLength="41.6" lengthAdjust="spacingAndGlyphs">0.66444</text>
<path d="M1472.5 279.3H1530q2 0 2 2V307.4q0 2 -2 2H1472.5Z" fill="#ef5350"/>
<text x="1479.9" y="292" font-size="12" fill="#fff" font-weight="bold" textLength="41.6" lengthAdjust="spacingAndGlyphs">0.66420</text>
<text x="1480.3" y="305.3" font-size="12" fill="#fde0e0" textLength="45.8" lengthAdjust="spacingAndGlyphs">06:08:33</text>
<path d="M1471 279.3H1420q-2 0 -2 2V293.4q0 2 2 2H1471Z" fill="#ef5350"/>
<text x="1423.4" y="291.6" font-size="12" fill="#fff" font-weight="bold" textLength="42.4" lengthAdjust="spacingAndGlyphs">AUDUSD</text>
<path d="M1472.5 334.9H1526q2 0 2 2V366.7q0 2 -2 2H1472.5Z" fill="#000"/>
<text x="1479.9" y="347.55" font-size="12" fill="#fff" font-weight="bold" textLength="41.6" lengthAdjust="spacingAndGlyphs">0.65802</text>
<text x="1479.9" y="364.45" font-size="12" fill="#fff" font-weight="bold" textLength="41.6" lengthAdjust="spacingAndGlyphs">0.65770</text>
<path d="M1472.5 369.4H1526q2 0 2 2V383.7q0 2 -2 2H1472.5Z" fill="#3333ff"/>
<text x="1479.9" y="381.75" font-size="12" fill="#fff" font-weight="bold" textLength="41.6" lengthAdjust="spacingAndGlyphs">0.65677</text>
<path d="M1472.5 386.3H1526q2 0 2 2V400.6q0 2 -2 2H1472.5Z" fill="#f23645"/>
<text x="1479.9" y="398.65" font-size="12" fill="#fff" font-weight="bold" textLength="41.6" lengthAdjust="spacingAndGlyphs">0.65362</text>
<path d="M1471 369.4H1422q-2 0 -2 2V383.7q0 2 2 2H1471Z" fill="#3333ff"/>
<text x="1424.8" y="381.75" font-size="12" fill="#fff" font-weight="bold" textLength="41.2" lengthAdjust="spacingAndGlyphs">SMA:MA</text>
<path d="M1471 386.3H1422q-2 0 -2 2V400.6q0 2 2 2H1471Z" fill="#f23645"/>
<text x="1424.8" y="398.65" font-size="12" fill="#fff" font-weight="bold" textLength="41.2" lengthAdjust="spacingAndGlyphs">SMA:MA</text>
<path d="M1472.5 444.5H1526q2 0 2 2V458.3q0 2 -2 2H1472.5Z" fill="#000"/>
<text x="1479.9" y="456.6" font-size="12" fill="#fff" font-weight="bold" textLength="41.6" lengthAdjust="spacingAndGlyphs">0.64586</text>
<path d="M1472.5 530.3H1526q2 0 2 2V544.7q0 2 -2 2H1472.5Z" fill="#ff9800"/>
<text x="1479.9" y="542.7" font-size="12" fill="#131722" textLength="41.6" lengthAdjust="spacingAndGlyphs">0.63633</text>
<path d="M1472.5 612.5H1526q2 0 2 2V626.8q0 2 -2 2H1472.5Z" fill="#000"/>
<text x="1479.9" y="624.85" font-size="12" fill="#fff" font-weight="bold" textLength="41.6" lengthAdjust="spacingAndGlyphs">0.62724</text>
<path d="M1471 713H1393q-2 0 -2 2V727.6q0 2 2 2H1471Z" fill="#fde73b"/>
<path d="M1472.5 713H1512.6q2 0 2 2V727.6q0 2 -2 2H1472.5Z" fill="#fde73b"/>
<text x="1395.8" y="725.5" font-size="12" fill="#131722" textLength="70.2" lengthAdjust="spacingAndGlyphs">RSI-based MA</text>
<text x="1480.5" y="725.5" font-size="12" fill="#131722" textLength="28.3" lengthAdjust="spacingAndGlyphs">56.92</text>
<path d="M1471 730.2H1447.4q-2 0 -2 2V744.7q0 2 2 2H1471Z" fill="#7e57c2"/>
<path d="M1472.5 730.2H1512.6q2 0 2 2V744.7q0 2 -2 2H1472.5Z" fill="#7e57c2"/>
<text x="1450" y="742.6" font-size="12" fill="#fff" font-weight="bold" textLength="16" lengthAdjust="spacingAndGlyphs">RSI</text>
<text x="1480.5" y="742.6" font-size="12" fill="#fff" font-weight="bold" textLength="28.3" lengthAdjust="spacingAndGlyphs">53.42</text>
<text x="1480" y="769" font-size="12" fill="#50535e" textLength="29.5" lengthAdjust="spacingAndGlyphs">40.00</text>
<g fill="#131722"><path d="M9.9 834H17.9V843.7H14V837.9H9.9Z"/><circle cx="21.1" cy="835.9" r="2"/><path d="M25.2 834H29.5L25.6 843.7H21.1Z"/></g>
<text x="33" y="843.7" font-size="12.8" fill="#131722" textLength="70.6" lengthAdjust="spacingAndGlyphs">TradingView</text>
<defs><filter id="wsh" x="-10%" y="-10%" width="130%" height="140%"><feDropShadow dx="2" dy="2" stdDeviation="1" flood-color="#000" flood-opacity="0.55"/></filter><filter id="wsh2" x="-10%" y="-10%" width="130%" height="140%"><feDropShadow dx="1.5" dy="1.5" stdDeviation="0.8" flood-color="#000" flood-opacity="0.45"/></filter></defs>
<g filter="url(#wsh)" fill="#fff" fill-opacity="0.72" font-size="58" font-weight="900" font-family="'Noto Sans CJK SC',sans-serif">
<text transform="translate(1297,813) skewX(-15)" x="0" y="0">海</text>
<text transform="translate(1358,813) skewX(-15)" x="0" y="0">马</text>
<text transform="translate(1419,813) skewX(-15)" x="0" y="0">财</text>
<text transform="translate(1480,813) skewX(-15)" x="0" y="0">经</text>
</g>
<g filter="url(#wsh2)" fill="#8fadf7" stroke="#8fadf7" stroke-width="1" font-size="31" font-weight="bold" font-family="'DejaVu Sans',sans-serif">
<text transform="translate(1310,852) skewX(-14)" x="0" y="0">z</text>
<text transform="translate(1337.5,852) skewX(-14)" x="0" y="0">z</text>
<text transform="translate(1364,852) skewX(-14)" x="0" y="0">r</text>
<text transform="translate(1389,852) skewX(-14)" x="0" y="0">t</text>
<text transform="translate(1408,852) skewX(-14)" x="0" y="0">0</text>
<text transform="translate(1442,852) skewX(-14)" x="0" y="0">1</text>
<text transform="translate(1466,852) skewX(-14)" x="0" y="0">.</text>
<text transform="translate(1487,852) skewX(-14)" x="0" y="0">c</text>
<text transform="translate(1512,852) skewX(-14)" x="0" y="0">n</text>
</g>
</svg>
</body></html>
